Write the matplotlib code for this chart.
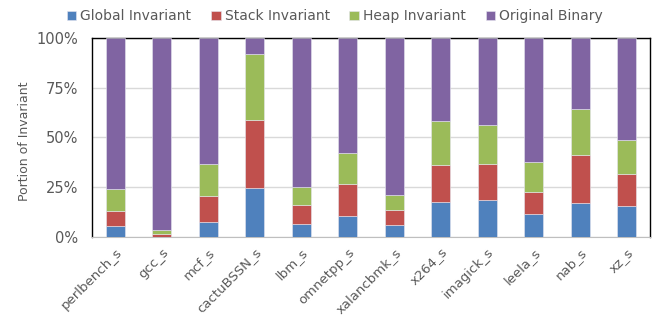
import matplotlib
matplotlib.use("Agg")
import matplotlib.pyplot as plt
import numpy as np

plt.rcParams['font.family'] = ['DejaVu Sans']

benchmarks = ['perlbench_s', 'gcc_s', 'mcf_s', 'cactuBSSN_s', 'lbm_s', 'omnetpp_s',
              'xalancbmk_s', 'x264_s', 'imagick_s', 'leela_s', 'nab_s', 'xz_s']

# cumulative tops (percent)
global_top = [5.4, 0.2, 7.5, 24.6, 6.4, 10.5, 6.2, 17.6, 18.4, 11.7, 17.2, 15.6]
stack_top = [13.2, 1.7, 20.7, 58.7, 16.1, 26.8, 13.4, 36.0, 36.8, 22.7, 41.1, 31.8]
heap_top = [24.1, 3.7, 36.5, 92.0, 25.3, 42.3, 20.9, 58.5, 56.2, 37.8, 64.4, 48.8]

global_inv = np.array(global_top)
stack_inv = np.array(stack_top) - np.array(global_top)
heap_inv = np.array(heap_top) - np.array(stack_top)
original = 100 - np.array(heap_top)

series = [('Global Invariant', global_inv, '#4F81BD'),
          ('Stack Invariant', stack_inv, '#C0504D'),
          ('Heap Invariant', heap_inv, '#9BBB59'),
          ('Original Binary', original, '#8064A2')]

fig = plt.figure(figsize=(6.54, 3.15), dpi=100)
ax = fig.add_axes([0.1407, 0.2476, 0.8532, 0.6318])

x = np.arange(len(benchmarks))
bottom = np.zeros(len(benchmarks))
for name, vals, col in series:
    ax.bar(x, vals, 0.4, bottom=bottom, color=col, label=name,
           edgecolor='#e6e6f0', linewidth=0.4, zorder=3)
    bottom += vals

ax.set_xlim(-0.5, len(benchmarks) - 0.5)
ax.set_ylim(0, 100)
ax.set_yticks([0, 25, 50, 75, 100])
ax.set_yticklabels(['0%', '25%', '50%', '75%', '100%'])
ax.yaxis.grid(True, color='#d9d9d9', linewidth=1, zorder=0)
ax.set_axisbelow(True)

ax.set_xticks(x)
ax.set_xticklabels(benchmarks, rotation=45, ha='right', rotation_mode='anchor')
ax.tick_params(axis='both', length=0, colors='#595959')
ax.tick_params(axis='x', pad=6, labelsize=9.5)
ax.tick_params(axis='y', pad=10, labelsize=10.5)

for s in ['top', 'left', 'right']:
    ax.spines[s].set_color('black')
    ax.spines[s].set_linewidth(1)
ax.spines['bottom'].set_color('#bfbfbf')

ax.set_ylabel('Portion of Invariant', color='#595959', fontsize=9)
ax.yaxis.set_label_coords(-0.109, 0.48)

fig.legend(loc='upper center', bbox_to_anchor=(0.512, 1.01), ncol=4, frameon=False,
           fontsize=10, labelcolor='#595959', handlelength=0.7, handleheight=0.7,
           handletextpad=0.3, columnspacing=1.4)

fig.savefig('out.png', dpi=100)
